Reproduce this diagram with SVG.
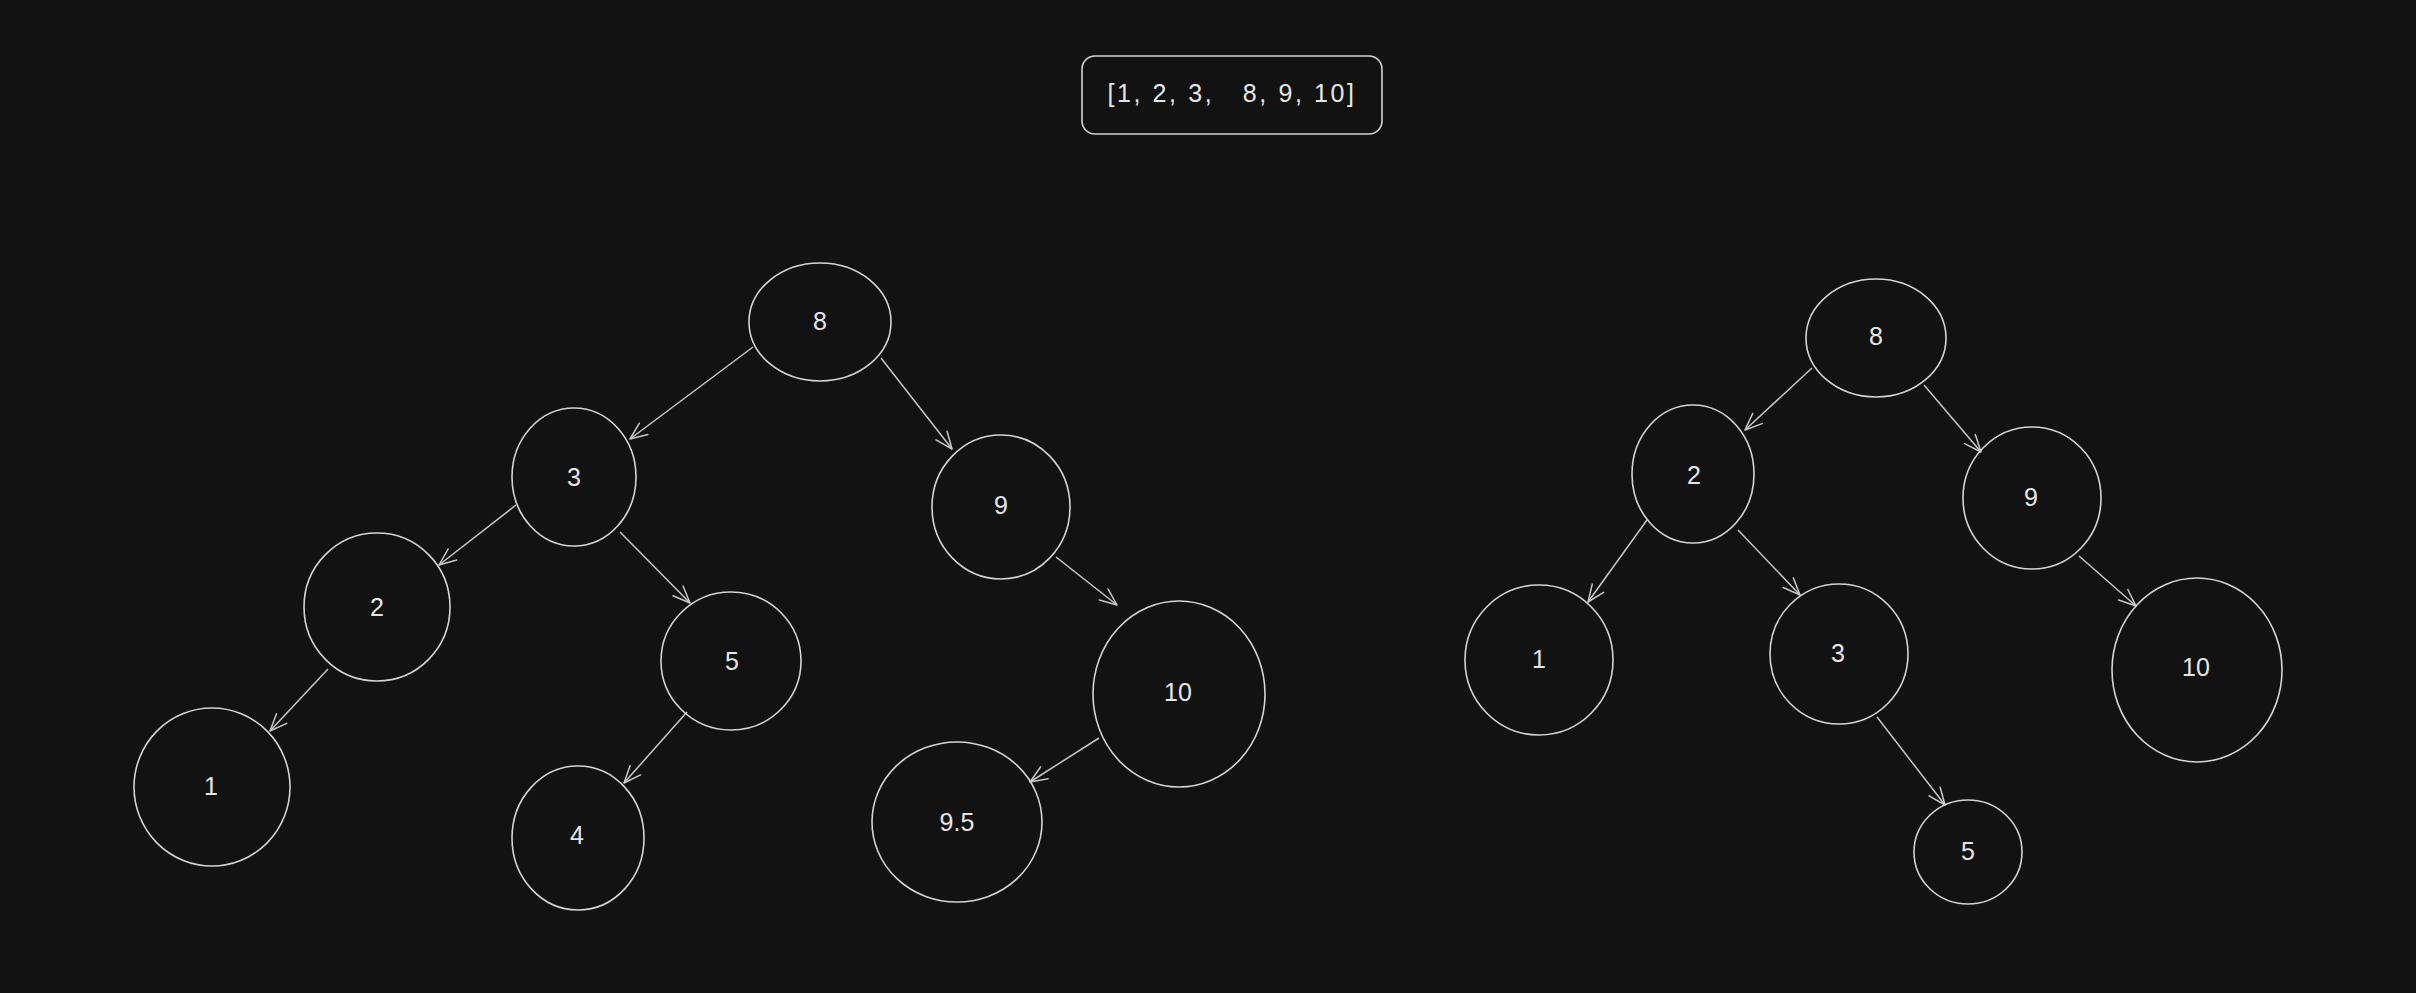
<svg xmlns="http://www.w3.org/2000/svg" width="2416" height="993" viewBox="0 0 2416 993">
<style>
.bg{fill:#121212}
.node ellipse{fill:none;stroke:#d4d4d4;stroke-width:1.6}
.node text,.lbl{fill:#e6e6e6;font-family:"Liberation Sans",Arial,sans-serif;font-size:25px;text-anchor:middle;dominant-baseline:central}
.box{fill:none;stroke:#d4d4d4;stroke-width:1.6}
.edges line{stroke:#c8c8c8;stroke-width:1.5;marker-end:url(#arr)}
</style>
<defs>
<marker id="arr" viewBox="-20 -10 22 20" refX="0" refY="0" markerWidth="22" markerHeight="20" markerUnits="userSpaceOnUse" orient="auto">
<path d="M-17,-7 L0,0 L-17,7" fill="none" stroke="#c8c8c8" stroke-width="1.5" stroke-linecap="round" stroke-linejoin="round"/>
</marker>
</defs>
<rect class="bg" x="0" y="0" width="2416" height="993"/>
<g id="array">
<rect class="box" x="1082" y="56" width="300" height="78" rx="13" ry="13"/>
<text class="lbl" x="1232" y="93" font-size="31" letter-spacing="2.6" xml:space="preserve">[1, 2, 3,   8, 9, 10]</text>
</g>
<g class="edges" id="connectors">
<line x1="753" y1="347" x2="630" y2="439"/>
<line x1="881" y1="358" x2="952" y2="449"/>
<line x1="516" y1="505" x2="439" y2="565"/>
<line x1="620" y1="532" x2="690" y2="603"/>
<line x1="328" y1="669" x2="270" y2="731"/>
<line x1="687" y1="712" x2="624" y2="783"/>
<line x1="1056" y1="557" x2="1117" y2="605"/>
<line x1="1099" y1="738" x2="1030" y2="782"/>
<line x1="1812" y1="368" x2="1745" y2="430"/>
<line x1="1924" y1="385" x2="1981" y2="452"/>
<line x1="1647" y1="520" x2="1588" y2="602"/>
<line x1="1738" y1="530" x2="1800" y2="595"/>
<line x1="2079" y1="556" x2="2136" y2="606"/>
<line x1="1877" y1="717" x2="1945" y2="805"/>
</g>
<g class="node" id="L8"><ellipse cx="820" cy="322" rx="71" ry="59"/><text x="820" y="321">8</text></g>
<g class="node" id="L3"><ellipse cx="574" cy="477" rx="62" ry="69"/><text x="574" y="477">3</text></g>
<g class="node" id="L9"><ellipse cx="1001" cy="507" rx="69" ry="72"/><text x="1001" y="505">9</text></g>
<g class="node" id="L2"><ellipse cx="377" cy="607" rx="73" ry="74"/><text x="377" y="607">2</text></g>
<g class="node" id="L5"><ellipse cx="731" cy="661" rx="70" ry="69"/><text x="732" y="661">5</text></g>
<g class="node" id="L10"><ellipse cx="1179" cy="694" rx="86" ry="93"/><text x="1178" y="692">10</text></g>
<g class="node" id="L1"><ellipse cx="212" cy="787" rx="78" ry="79"/><text x="211" y="786">1</text></g>
<g class="node" id="L4"><ellipse cx="578" cy="838" rx="66" ry="72"/><text x="577" y="835">4</text></g>
<g class="node" id="L95"><ellipse cx="957" cy="822" rx="85" ry="80"/><text x="957" y="822">9.5</text></g>
<g class="node" id="R8"><ellipse cx="1876" cy="338" rx="70" ry="59"/><text x="1876" y="336">8</text></g>
<g class="node" id="R2"><ellipse cx="1693" cy="474" rx="61" ry="69"/><text x="1694" y="475">2</text></g>
<g class="node" id="R9"><ellipse cx="2032" cy="498" rx="69" ry="71"/><text x="2031" y="497">9</text></g>
<g class="node" id="R1"><ellipse cx="1539" cy="660" rx="74" ry="75"/><text x="1539" y="659">1</text></g>
<g class="node" id="R3"><ellipse cx="1839" cy="654" rx="69" ry="70"/><text x="1838" y="653">3</text></g>
<g class="node" id="R10"><ellipse cx="2197" cy="670" rx="85" ry="92"/><text x="2196" y="667">10</text></g>
<g class="node" id="R5"><ellipse cx="1968" cy="852" rx="54" ry="52"/><text x="1968" y="851">5</text></g>
</svg>
